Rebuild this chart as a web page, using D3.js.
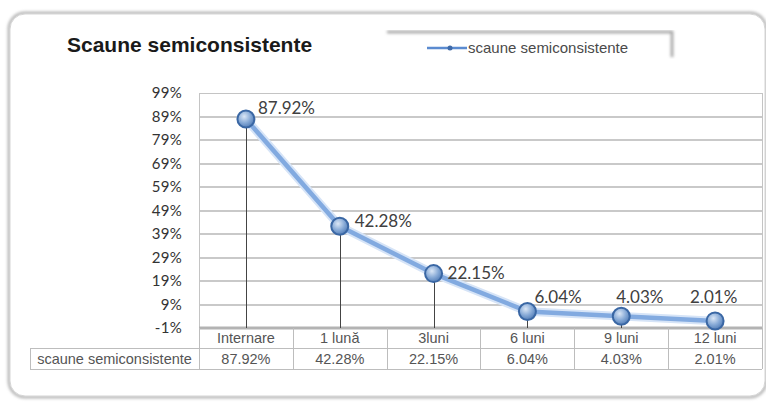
<!DOCTYPE html>
<meta charset="utf-8">
<style>
body { margin: 0; background: #fff; }
svg { display: block; }
.title { font: bold 21px "Liberation Sans", sans-serif; fill: #1a1a1a; }
.legend text { font: 15px "Liberation Sans", sans-serif; fill: #4a4a4a; }
.y.axis text { font: 15px Lato, sans-serif; fill: #333; letter-spacing: 0.3px; }
.y.axis path, .y.axis line { display: none; }
.grid line { stroke: #c9c9c9; stroke-width: 1.5; shape-rendering: crispEdges; }
.frame { fill: none; stroke: #c4c4c4; shape-rendering: crispEdges; }
.drop { stroke: #444; stroke-width: 1; shape-rendering: crispEdges; }
.series { fill: none; stroke: #82aae0; stroke-width: 4.5; stroke-linejoin: round; }
.marker { fill: url(#dot); stroke: #3a67a4; stroke-width: 2; }
.label { font: 17px Lato, sans-serif; fill: #404040; }
.table line { stroke: #bdbdbd; shape-rendering: crispEdges; }
.table text { font: 14.5px "Liberation Sans", sans-serif; fill: #555; }
</style>
<body>
<script src="https://cdn.jsdelivr.net/npm/d3@7"></script>
<script>

var categories = ["Internare", "1 lună", "3luni", "6 luni", "9 luni", "12 luni"],
    values = [87.92, 42.28, 22.15, 6.04, 4.03, 2.01],
    yTicks = [-1, 9, 19, 29, 39, 49, 59, 69, 79, 89, 99],
    seriesName = "scaune semiconsistente",
    chartTitle = "Scaune semiconsistente";

// data label offsets from each point (left edge, baseline)
var labelDx = [12, 15, 14, 7, -5, -25],
    labelDy = [-5, 1, 5, -8.5, -13, -18];

var width = 766,
    height = 406,
    plotLeft = 199,
    plotRight = 762,
    plotTop = 93,
    plotBottom = 328,
    rowH = [20, 21],
    tableLeft = 30;

var fmt = function(v) { return v.toFixed(2) + "%"; };

var svg = d3.select("body").append("svg")
    .attr("width", width)
    .attr("height", height);

var defs = svg.append("defs");
var grad = defs.append("radialGradient").attr("id", "dot")
    .attr("cx", "40%").attr("cy", "35%").attr("r", "70%");
grad.append("stop").attr("offset", "0%").attr("stop-color", "#dbe7f6");
grad.append("stop").attr("offset", "55%").attr("stop-color", "#86a9d6");
grad.append("stop").attr("offset", "100%").attr("stop-color", "#4d78b3");

var shadow = defs.append("filter").attr("id", "shadow")
    .attr("x", "-5%").attr("y", "-5%").attr("width", "110%").attr("height", "110%");
shadow.append("feGaussianBlur").attr("stdDeviation", 1.5);

// outer rounded frame
svg.append("rect")
    .attr("x", 9).attr("y", 13)
    .attr("width", 757).attr("height", 384)
    .attr("rx", 16)
    .attr("fill", "none")
    .attr("stroke", "#a9a9a9")
    .attr("stroke-width", 2.5)
    .attr("filter", "url(#shadow)");
svg.append("rect")
    .attr("x", 10).attr("y", 14)
    .attr("width", 755).attr("height", 382)
    .attr("rx", 15)
    .attr("fill", "#fff")
    .attr("stroke", "#d5d5d5")
    .attr("stroke-width", 1);

svg.append("text")
    .attr("class", "title")
    .attr("x", 67)
    .attr("y", 52)
    .text(chartTitle);

// legend
var legend = svg.append("g").attr("class", "legend");
legend.append("path")
    .attr("d", "M387,32H672V57")
    .attr("fill", "none")
    .attr("stroke", "#9c9c9c")
    .attr("stroke-width", 2.5)
    .attr("filter", "url(#shadow)");
legend.append("line")
    .attr("x1", 427).attr("x2", 467)
    .attr("y1", 48).attr("y2", 48)
    .attr("stroke", "#5b8bd0")
    .attr("stroke-width", 2.5);
legend.append("circle")
    .attr("cx", 450).attr("cy", 48).attr("r", 2.5)
    .attr("fill", "#3f6aa8");
legend.append("text")
    .attr("x", 468)
    .attr("y", 53)
    .text(seriesName);

var x = d3.scaleBand()
    .domain(categories)
    .range([plotLeft, plotRight]);

var y = d3.scaleLinear()
    .domain([yTicks[0], yTicks[yTicks.length - 1]])
    .range([plotBottom, plotTop]);

// gridlines
svg.append("g")
    .attr("class", "grid")
    .selectAll("line")
    .data(yTicks.slice(1, -1))
  .enter().append("line")
    .attr("x1", plotLeft).attr("x2", plotRight)
    .attr("y1", function(d) { return Math.round(y(d)); })
    .attr("y2", function(d) { return Math.round(y(d)); });

svg.append("rect")
    .attr("class", "frame")
    .attr("x", plotLeft).attr("y", plotTop)
    .attr("width", plotRight - plotLeft).attr("height", plotBottom - plotTop);

svg.append("line")
    .attr("x1", plotLeft).attr("x2", plotRight)
    .attr("y1", plotBottom).attr("y2", plotBottom)
    .attr("stroke", "#b3b3b3")
    .attr("stroke-width", 3);

svg.append("g")
    .attr("class", "y axis")
    .attr("transform", "translate(" + (plotLeft - 17) + ",0)")
    .call(d3.axisLeft(y).tickValues(yTicks).tickSize(0).tickPadding(0)
      .tickFormat(function(d) { return d + "%"; }));

var cx = function(d, i) { return x(categories[i]) + x.bandwidth() / 2; };

// drop lines
svg.append("g").selectAll("line")
    .data(values)
  .enter().append("line")
    .attr("class", "drop")
    .attr("x1", function(d, i) { return Math.round(cx(d, i)) + 0.5; })
    .attr("x2", function(d, i) { return Math.round(cx(d, i)) + 0.5; })
    .attr("y1", function(d) { return y(d); })
    .attr("y2", plotBottom);

var line = d3.line()
    .x(cx)
    .y(function(d) { return y(d); });

svg.append("path")
    .datum(values)
    .attr("d", line)
    .attr("fill", "none")
    .attr("stroke", "#d6e4f7")
    .attr("stroke-width", 8.5)
    .attr("stroke-linejoin", "round");

svg.append("path")
    .datum(values)
    .attr("class", "series")
    .attr("d", line);

svg.append("g").selectAll("circle")
    .data(values)
  .enter().append("circle")
    .attr("class", "marker")
    .attr("cx", cx)
    .attr("cy", function(d) { return y(d); })
    .attr("r", 8.5);

svg.append("g").selectAll("text")
    .data(values)
  .enter().append("text")
    .attr("class", "label")
    .attr("x", function(d, i) { return cx(d, i) + labelDx[i]; })
    .attr("y", function(d, i) { return y(d) + labelDy[i]; })
    .text(fmt);

// data table
var table = svg.append("g").attr("class", "table");
var r0 = plotBottom, r1 = plotBottom + rowH[0], r2 = r1 + rowH[1];

table.append("line").attr("x1", tableLeft).attr("x2", plotRight).attr("y1", r1).attr("y2", r1);
table.append("line").attr("x1", tableLeft).attr("x2", plotRight).attr("y1", r2).attr("y2", r2);
table.append("line").attr("x1", tableLeft).attr("x2", tableLeft).attr("y1", r1).attr("y2", r2);
table.append("line").attr("x1", plotLeft).attr("x2", plotLeft).attr("y1", r0).attr("y2", r2);

table.selectAll(".col")
    .data(categories)
  .enter().append("line")
    .attr("class", "col")
    .attr("x1", function(d) { return Math.round(x(d) + x.bandwidth()); })
    .attr("x2", function(d) { return Math.round(x(d) + x.bandwidth()); })
    .attr("y1", r0).attr("y2", r2);

table.selectAll(".head")
    .data(categories)
  .enter().append("text")
    .attr("class", "head")
    .attr("x", function(d) { return x(d) + x.bandwidth() / 2; })
    .attr("y", r0 + 15)
    .attr("text-anchor", "middle")
    .text(function(d) { return d; });

table.selectAll(".val")
    .data(values)
  .enter().append("text")
    .attr("class", "val")
    .attr("x", cx)
    .attr("y", r1 + 16)
    .attr("text-anchor", "middle")
    .text(fmt);

table.append("text")
    .attr("x", (tableLeft + plotLeft) / 2)
    .attr("y", r1 + 16)
    .attr("text-anchor", "middle")
    .text(seriesName);

</script>
